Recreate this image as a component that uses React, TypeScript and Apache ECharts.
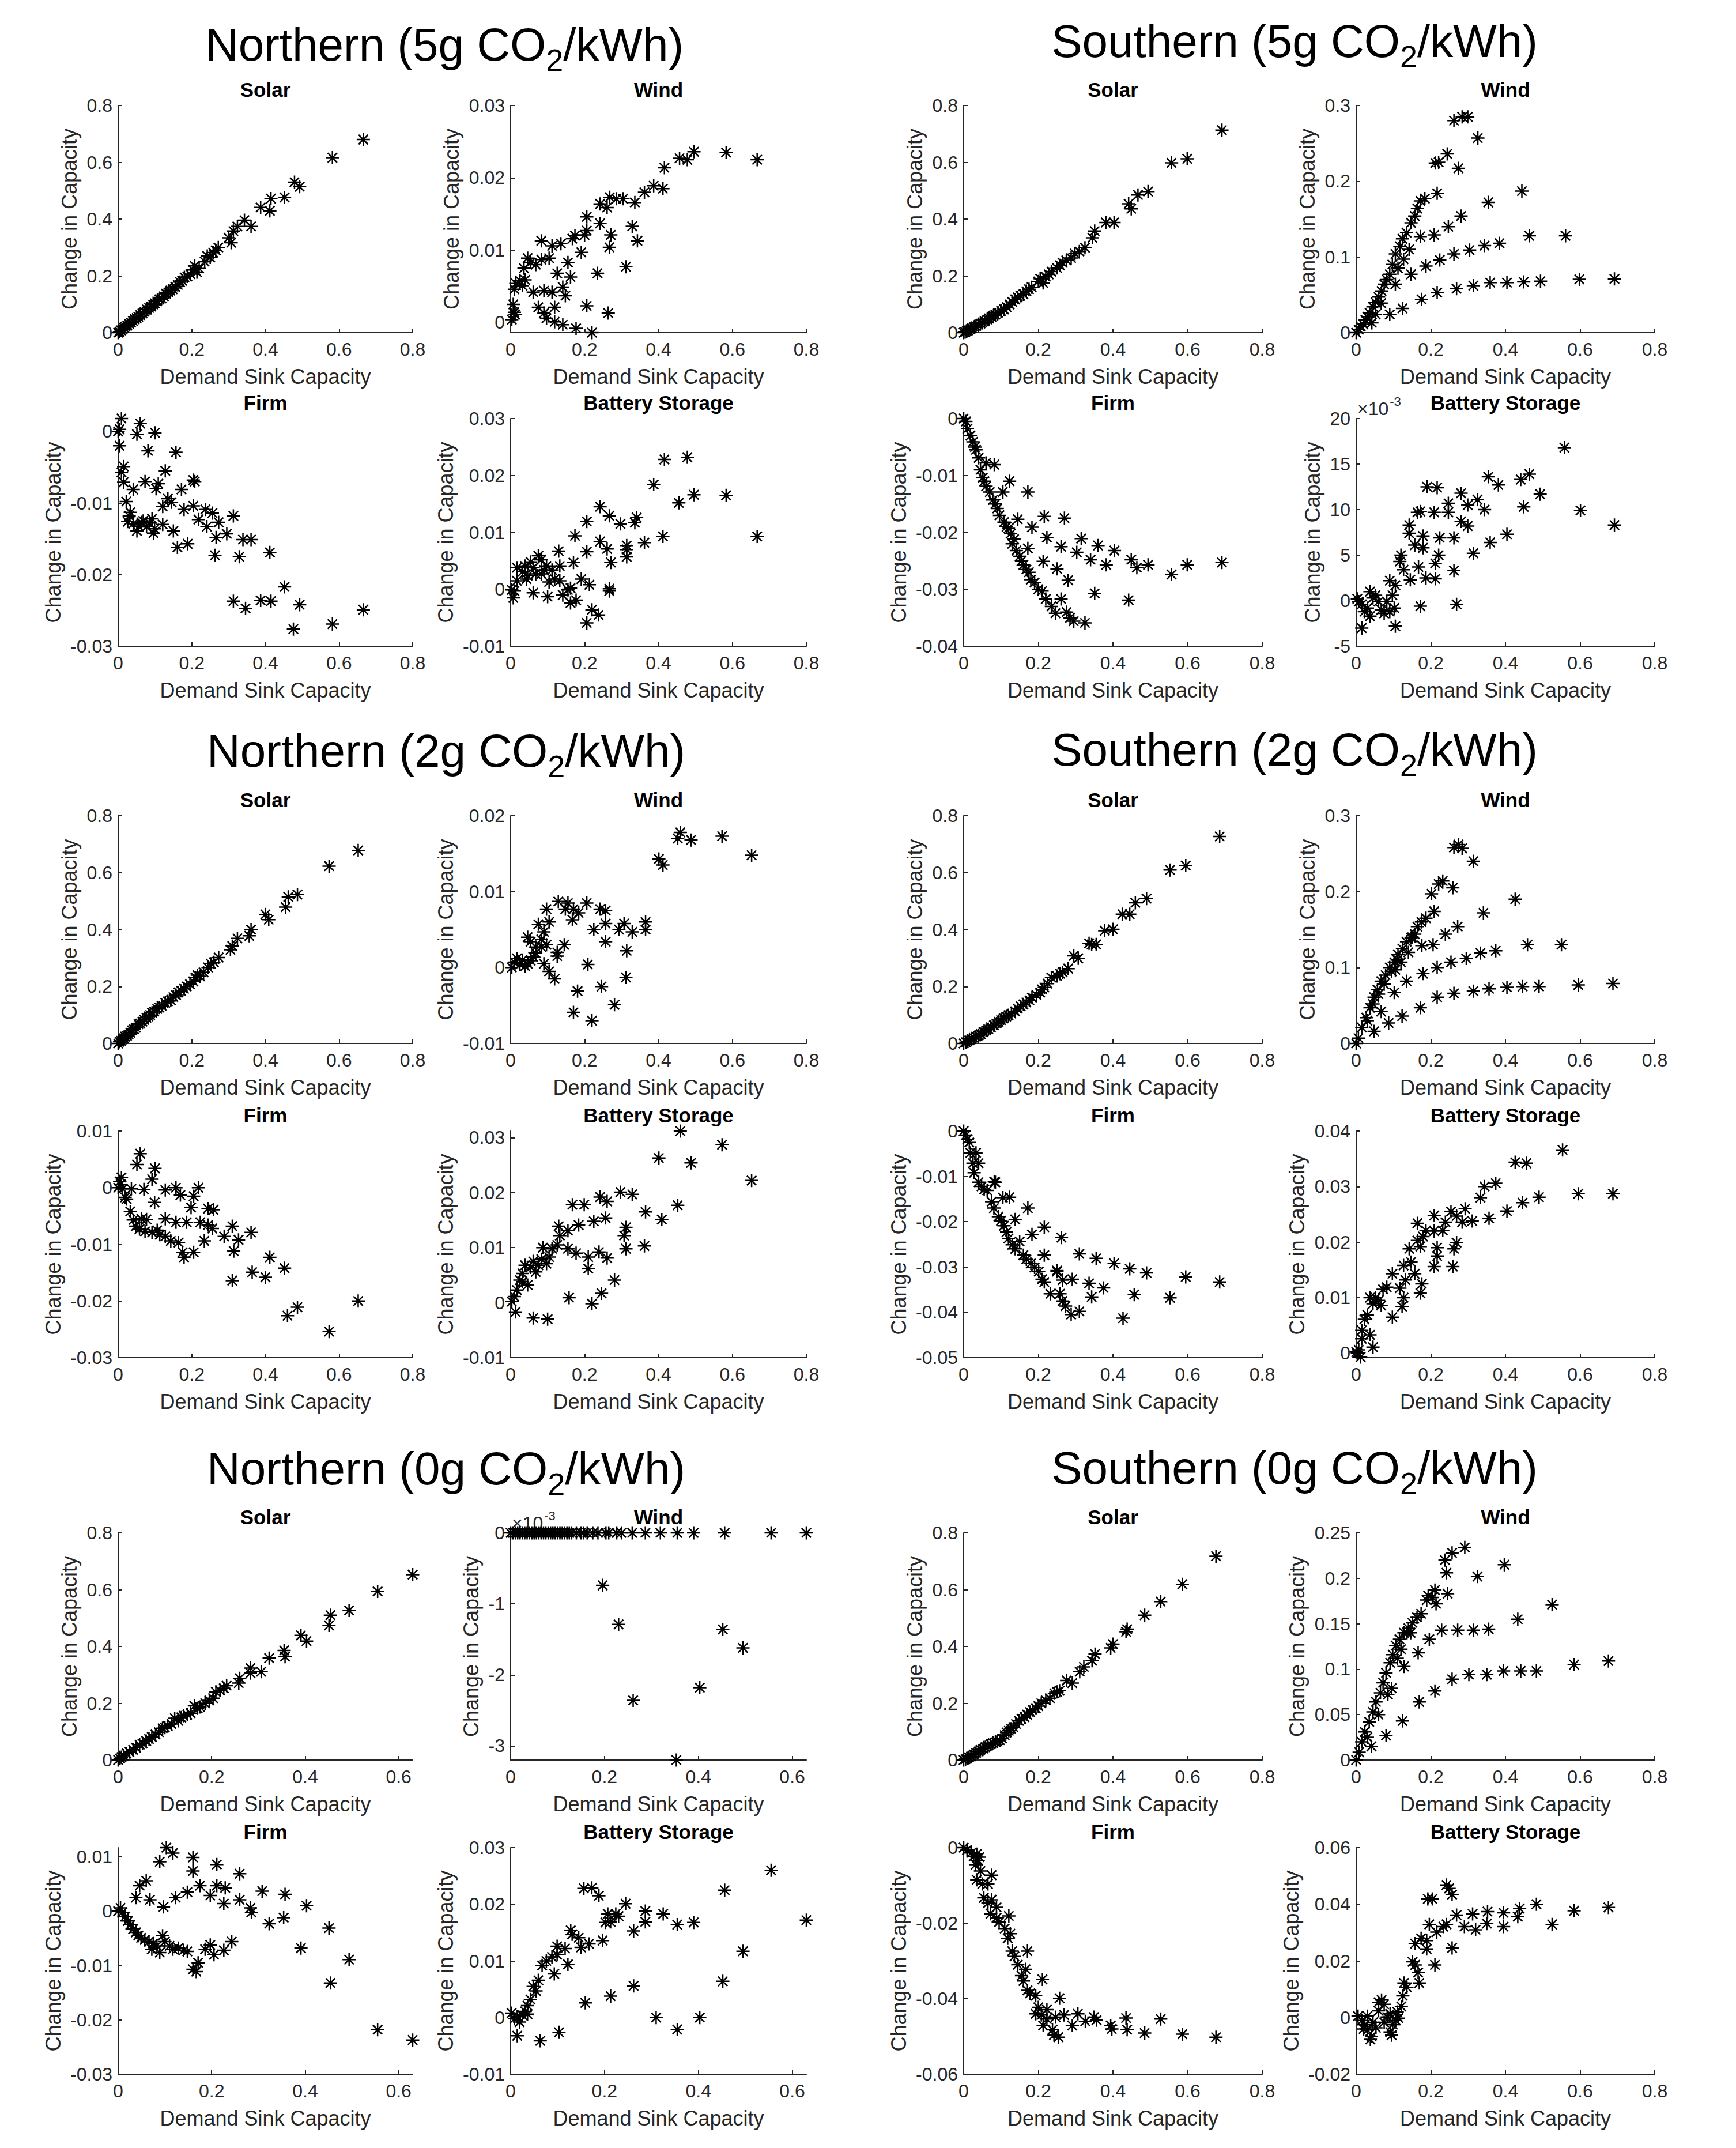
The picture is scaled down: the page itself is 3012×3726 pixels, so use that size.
import React, { useEffect, useRef } from 'react';
import * as echarts from 'echarts';

type Pt = [number, number];

// ---------------- tick arrays ----------------
const X08 = [0, 0.2, 0.4, 0.6, 0.8];
const X06 = [0, 0.2, 0.4, 0.6];
const Y_SOLAR = [0, 0.2, 0.4, 0.6, 0.8];
const Y_N5WIND = [0, 0.01, 0.02, 0.03];
const Y_S_WIND = [0, 0.1, 0.2, 0.3];
const Y_S0WIND = [0, 0.05, 0.1, 0.15, 0.2, 0.25];
const Y_N5FIRM = [-0.03, -0.02, -0.01, 0];
const Y_BATT = [-0.01, 0, 0.01, 0.02, 0.03];
const Y_S5FIRM = [-0.04, -0.03, -0.02, -0.01, 0];
const Y_S5BATT = [-0.005, 0, 0.005, 0.01, 0.015, 0.02];
const Y_N2WIND = [-0.01, 0, 0.01, 0.02];
const Y_N2FIRM = [-0.03, -0.02, -0.01, 0, 0.01];
const Y_S2FIRM = [-0.05, -0.04, -0.03, -0.02, -0.01, 0];
const Y_S2BATT = [0, 0.01, 0.02, 0.03, 0.04];
const Y_N0WIND = [-0.003, -0.002, -0.001, 0];
const Y_S0FIRM = [-0.06, -0.04, -0.02, 0];
const Y_S0BATT = [-0.02, 0, 0.02, 0.04, 0.06];

// ---------------- Northern 5g ----------------
const n5Solar: Pt[] = [[0,0],[0.004,0.003],[0.008,0.008],[0.012,0.011],[0.016,0.017],[0.02,0.021],[0.025,0.025],[0.03,0.031],[0.035,0.035],[0.04,0.041],[0.045,0.047],[0.05,0.051],[0.055,0.056],[0.06,0.062],[0.066,0.068],[0.072,0.073],[0.078,0.081],[0.084,0.087],[0.09,0.092],[0.095,0.099],[0.1,0.103],[0.106,0.11],[0.112,0.117],[0.118,0.121],[0.124,0.128],[0.13,0.137],[0.136,0.142],[0.142,0.148],[0.148,0.153],[0.155,0.162],[0.162,0.168],[0.168,0.178],[0.174,0.183],[0.18,0.195],[0.188,0.198],[0.196,0.206],[0.203,0.221],[0.208,0.235],[0.214,0.213],[0.22,0.226],[0.235,0.25],[0.242,0.27],[0.25,0.265],[0.258,0.282],[0.265,0.29],[0.272,0.3],[0.3,0.334],[0.307,0.317],[0.313,0.358],[0.324,0.374],[0.343,0.396],[0.361,0.374],[0.387,0.441],[0.412,0.429],[0.415,0.472],[0.452,0.476],[0.479,0.53],[0.493,0.514],[0.582,0.616],[0.666,0.68]];
const n5Wind: Pt[] = [[0.667,0.0225],[0.583,0.0235],[0.496,0.0236],[0.478,0.0225],[0.457,0.0227],[0.416,0.0214],[0.412,0.0185],[0.387,0.0189],[0.362,0.018],[0.336,0.0166],[0.304,0.0171],[0.286,0.0171],[0.268,0.0173],[0.261,0.0159],[0.242,0.0164],[0.206,0.0146],[0.242,0.0137],[0.329,0.0133],[0.343,0.0113],[0.271,0.0121],[0.267,0.0104],[0.206,0.0127],[0.2,0.0121],[0.174,0.012],[0.167,0.0116],[0.191,0.0097],[0.155,0.0083],[0.235,0.0068],[0.312,0.0077],[0.136,0.0109],[0.112,0.0106],[0.083,0.0113],[0.104,0.0089],[0.083,0.0087],[0.068,0.008],[0.054,0.0083],[0.046,0.0089],[0.036,0.0075],[0.126,0.0068],[0.162,0.0063],[0.141,0.0049],[0.148,0.0037],[0.112,0.0042],[0.09,0.0044],[0.061,0.0042],[0.039,0.0059],[0.025,0.0058],[0.014,0.0054],[0.01,0.0046],[0.032,0.0051],[0.075,0.0021],[0.119,0.0021],[0.206,0.0023],[0.264,0.0013],[0.09,0.0013],[0.097,0.0006],[0.119,0.0001],[0.141,-0.0003],[0.177,-0.0008],[0.22,-0.0014],[0.003,0.0004],[0.007,0.0025],[0.01,0.0014],[0.012,0.0011]];
const n5Firm: Pt[] = [[0.009,0.0018],[0.004,0.0003],[0,0],[0.06,0.0011],[0.051,-0.0004],[0.1,-0.0002],[0.004,-0.002],[0.081,-0.0027],[0.157,-0.0029],[0.015,-0.0049],[0.009,-0.0057],[0.128,-0.0055],[0.015,-0.0071],[0.073,-0.007],[0.109,-0.0073],[0.103,-0.008],[0.041,-0.0081],[0.172,-0.0081],[0.204,-0.0068],[0.208,-0.007],[0.022,-0.0098],[0.135,-0.0094],[0.145,-0.0099],[0.121,-0.0105],[0.179,-0.0109],[0.204,-0.0104],[0.237,-0.0109],[0.256,-0.0114],[0.313,-0.0118],[0.218,-0.0123],[0.273,-0.0127],[0.241,-0.0133],[0.033,-0.0113],[0.026,-0.0126],[0.041,-0.0129],[0.063,-0.0127],[0.077,-0.0133],[0.092,-0.0122],[0.099,-0.0136],[0.121,-0.013],[0.051,-0.0139],[0.096,-0.0142],[0.15,-0.0139],[0.056,-0.0133],[0.068,-0.0125],[0.085,-0.0128],[0.03,-0.0118],[0.295,-0.0143],[0.266,-0.0148],[0.339,-0.0151],[0.361,-0.0151],[0.189,-0.0157],[0.161,-0.0162],[0.412,-0.0169],[0.263,-0.0173],[0.329,-0.0175],[0.452,-0.0217],[0.313,-0.0237],[0.346,-0.0247],[0.387,-0.0236],[0.415,-0.0237],[0.493,-0.0242],[0.666,-0.0249],[0.582,-0.0269],[0.476,-0.0276]];
const n5Battery: Pt[] = [[0.667,0.0093],[0.583,0.0165],[0.496,0.0166],[0.455,0.0152],[0.478,0.0232],[0.416,0.0228],[0.387,0.0184],[0.412,0.0093],[0.362,0.0082],[0.341,0.0126],[0.336,0.0117],[0.314,0.0077],[0.314,0.007],[0.314,0.0057],[0.297,0.0115],[0.267,0.0129],[0.242,0.0145],[0.206,0.0119],[0.261,0.0071],[0.242,0.0084],[0.271,0.0047],[0.206,0.0066],[0.174,0.0094],[0.17,0.0047],[0.13,0.0067],[0.133,0.0041],[0.267,0.0001],[0.267,-0.0003],[0.191,0.0018],[0.213,0.0008],[0.162,0.0002],[0.155,-0.0001],[0.141,-0.001],[0.177,-0.0019],[0.162,-0.0024],[0.22,-0.0036],[0.238,-0.0045],[0.206,-0.0059],[0.1,-0.0013],[0.061,-0.0006],[0.007,-0.0015],[0.003,-0.0001],[0.01,-0.0003],[0.017,0.0015],[0.017,0.0038],[0.039,0.0041],[0.054,0.0048],[0.075,0.0059],[0.083,0.0052],[0.061,0.0038],[0.068,0.0027],[0.032,0.0031],[0.046,0.0024],[0.083,0.0027],[0.097,0.0041],[0.112,0.0034],[0.119,0.0018],[0.133,0.0015],[0.104,0.0013],[0.043,0.0018],[0.09,0.0034]];

// ---------------- Southern 5g ----------------
const s5Solar: Pt[] = [[0,0],[0.004,0.002],[0.008,0.005],[0.012,0.008],[0.018,0.012],[0.022,0.015],[0.028,0.019],[0.033,0.023],[0.04,0.028],[0.045,0.032],[0.05,0.036],[0.056,0.04],[0.063,0.046],[0.068,0.05],[0.075,0.056],[0.08,0.06],[0.085,0.064],[0.092,0.07],[0.1,0.076],[0.108,0.082],[0.115,0.09],[0.123,0.099],[0.13,0.108],[0.138,0.117],[0.145,0.124],[0.152,0.13],[0.16,0.135],[0.168,0.146],[0.175,0.153],[0.182,0.16],[0.2,0.18],[0.205,0.19],[0.213,0.175],[0.22,0.197],[0.228,0.205],[0.235,0.215],[0.25,0.228],[0.258,0.237],[0.265,0.246],[0.275,0.255],[0.288,0.263],[0.298,0.278],[0.31,0.286],[0.325,0.299],[0.345,0.334],[0.351,0.358],[0.381,0.388],[0.403,0.388],[0.442,0.454],[0.449,0.436],[0.467,0.485],[0.494,0.497],[0.557,0.598],[0.599,0.612],[0.692,0.713]];
const s5Wind: Pt[] = [[0,0],[0.007,0.004],[0.012,0.008],[0.019,0.011],[0.025,0.017],[0.03,0.021],[0.036,0.026],[0.042,0.013],[0.045,0.034],[0.052,0.024],[0.052,0.04],[0.06,0.047],[0.067,0.039],[0.068,0.055],[0.075,0.064],[0.082,0.07],[0.09,0.024],[0.09,0.077],[0.097,0.09],[0.105,0.064],[0.105,0.104],[0.112,0.085],[0.117,0.114],[0.124,0.032],[0.124,0.124],[0.127,0.097],[0.135,0.132],[0.142,0.11],[0.147,0.077],[0.147,0.145],[0.157,0.154],[0.164,0.164],[0.172,0.127],[0.172,0.174],[0.175,0.044],[0.184,0.177],[0.187,0.088],[0.209,0.129],[0.212,0.224],[0.217,0.053],[0.217,0.184],[0.221,0.225],[0.224,0.096],[0.244,0.236],[0.247,0.14],[0.262,0.104],[0.262,0.28],[0.269,0.058],[0.274,0.217],[0.281,0.154],[0.284,0.285],[0.299,0.285],[0.304,0.109],[0.314,0.062],[0.326,0.257],[0.344,0.115],[0.354,0.172],[0.359,0.066],[0.384,0.118],[0.404,0.066],[0.444,0.187],[0.449,0.067],[0.464,0.128],[0.494,0.068],[0.561,0.128],[0.598,0.0705],[0.692,0.071]];
const s5Firm: Pt[] = [[0,0],[0.006,-0.0005],[0.01,-0.0018],[0.018,-0.003],[0.025,-0.0041],[0.03,-0.005],[0.033,-0.0055],[0.04,-0.0069],[0.045,-0.009],[0.051,-0.0104],[0.055,-0.011],[0.06,-0.0119],[0.07,-0.0129],[0.078,-0.0143],[0.085,-0.015],[0.09,-0.0158],[0.096,-0.017],[0.108,-0.0182],[0.115,-0.019],[0.12,-0.0193],[0.126,-0.0202],[0.13,-0.022],[0.135,-0.0212],[0.141,-0.0232],[0.15,-0.0242],[0.155,-0.025],[0.16,-0.0257],[0.168,-0.0265],[0.175,-0.027],[0.18,-0.0283],[0.19,-0.0288],[0.2,-0.03],[0.21,-0.0303],[0.22,-0.0317],[0.235,-0.033],[0.246,-0.0342],[0.276,-0.034],[0.285,-0.035],[0.295,-0.0356],[0.325,-0.0359],[0.261,-0.0317],[0.28,-0.0284],[0.213,-0.0251],[0.25,-0.0264],[0.351,-0.0307],[0.442,-0.0319],[0.082,-0.0081],[0.06,-0.0078],[0.123,-0.011],[0.105,-0.0129],[0.172,-0.0129],[0.145,-0.0177],[0.216,-0.0172],[0.27,-0.0175],[0.183,-0.0191],[0.223,-0.0209],[0.315,-0.0211],[0.261,-0.0225],[0.36,-0.0223],[0.404,-0.0232],[0.303,-0.0235],[0.34,-0.0248],[0.382,-0.0257],[0.449,-0.0248],[0.464,-0.0262],[0.494,-0.0257],[0.557,-0.0274],[0.599,-0.0257],[0.692,-0.0253],[0.172,-0.0228]];
const s5Battery: Pt[] = [[0.558,0.0168],[0.464,0.0139],[0.441,0.0133],[0.354,0.0136],[0.381,0.0127],[0.493,0.0117],[0.449,0.0103],[0.601,0.0099],[0.692,0.0083],[0.404,0.0073],[0.359,0.0064],[0.314,0.0052],[0.344,0.01],[0.325,0.0111],[0.281,0.0118],[0.299,0.0105],[0.281,0.0087],[0.299,0.0082],[0.247,0.0107],[0.247,0.0097],[0.19,0.0125],[0.217,0.0124],[0.209,0.0097],[0.172,0.0098],[0.164,0.0097],[0.179,0.0071],[0.224,0.0069],[0.262,0.0069],[0.142,0.0074],[0.142,0.0083],[0.157,0.0061],[0.179,0.0058],[0.221,0.005],[0.212,0.0041],[0.262,0.0033],[0.212,0.0024],[0.187,0.0025],[0.167,0.0037],[0.145,0.0023],[0.127,0.0034],[0.12,0.005],[0.117,0.0043],[0.105,0.0017],[0.09,0.0022],[0.097,0.0006],[0.082,-0.0001],[0.172,-0.0006],[0.269,-0.0004],[0.105,-0.0028],[0.015,-0.003],[0.037,0.001],[0.045,0.0003],[0.06,-0.0001],[0.067,-0.001],[0.075,-0.0014],[0.03,-0.0008],[0.037,-0.0017],[0.007,-0.0001],[0.015,-0.0004],[0.022,-0.0012],[0.003,0.0002],[0.052,0.0006],[0.09,-0.0012],[0.102,-0.0008]];

// ---------------- Northern 2g ----------------
const n2Solar: Pt[] = [[0,0],[0.004,0.006],[0.008,0.009],[0.012,0.014],[0.016,0.018],[0.019,0.024],[0.024,0.027],[0.028,0.032],[0.033,0.038],[0.038,0.046],[0.043,0.05],[0.048,0.055],[0.055,0.068],[0.06,0.07],[0.066,0.077],[0.071,0.083],[0.077,0.09],[0.082,0.095],[0.087,0.1],[0.092,0.108],[0.098,0.112],[0.106,0.121],[0.112,0.126],[0.118,0.132],[0.128,0.143],[0.135,0.148],[0.143,0.152],[0.15,0.163],[0.157,0.17],[0.164,0.179],[0.171,0.185],[0.179,0.192],[0.186,0.2],[0.195,0.208],[0.204,0.218],[0.21,0.232],[0.215,0.24],[0.222,0.236],[0.232,0.25],[0.244,0.267],[0.252,0.28],[0.26,0.285],[0.273,0.302],[0.305,0.329],[0.31,0.342],[0.324,0.369],[0.356,0.378],[0.361,0.4],[0.4,0.453],[0.409,0.435],[0.455,0.479],[0.462,0.515],[0.487,0.523],[0.573,0.623],[0.652,0.678]];
const n2Wind: Pt[] = [[0.652,0.0148],[0.572,0.0173],[0.488,0.0168],[0.459,0.0178],[0.452,0.017],[0.412,0.0135],[0.401,0.0143],[0.365,0.006],[0.365,0.005],[0.329,0.0047],[0.307,0.0058],[0.293,0.005],[0.314,0.0022],[0.312,-0.0013],[0.257,0.0058],[0.257,0.0034],[0.257,0.0075],[0.242,0.0077],[0.225,0.005],[0.206,0.0085],[0.184,0.0072],[0.17,0.0077],[0.167,0.0063],[0.155,0.0085],[0.129,0.0087],[0.148,0.0077],[0.145,0.003],[0.126,0.0015],[0.104,0.006],[0.097,0.0077],[0.126,0.002],[0.075,0.0057],[0.09,0.0047],[0.046,0.004],[0.054,0.0034],[0.083,0.0027],[0.097,0.003],[0.068,0.0019],[0.09,0.0005],[0.104,-0.0005],[0.119,-0.0015],[0.209,0.0004],[0.181,-0.0031],[0.246,-0.0025],[0.281,-0.0049],[0.17,-0.0059],[0.22,-0.007],[0.01,0.0007],[0.017,0.0012],[0.032,0.001],[0.046,0.0005],[0.061,0.0014],[0.025,0.0004],[0.003,0],[0.039,0.0002],[0.054,0.0009],[0.068,0.0027],[0.083,0.0037]];
const n2Firm: Pt[] = [[0.06,0.006],[0.051,0.0041],[0.1,0.0034],[0.092,0.0015],[0.009,0.0018],[0.004,0.0011],[0,0],[0.012,-0.0002],[0.007,0.0006],[0.019,-0.0017],[0.023,-0.002],[0.036,-0.0002],[0.07,-0.0003],[0.099,-0.0026],[0.128,-0.0004],[0.157,0],[0.169,-0.0013],[0.205,-0.0015],[0.218,0],[0.198,-0.0035],[0.244,-0.0037],[0.259,-0.0039],[0.033,-0.0042],[0.041,-0.0057],[0.063,-0.0055],[0.077,-0.0056],[0.128,-0.0055],[0.157,-0.0061],[0.186,-0.0061],[0.223,-0.0061],[0.244,-0.0066],[0.256,-0.0072],[0.31,-0.0068],[0.361,-0.0079],[0.288,-0.0086],[0.327,-0.0092],[0.234,-0.0094],[0.314,-0.0112],[0.048,-0.0068],[0.058,-0.0073],[0.073,-0.0077],[0.092,-0.0079],[0.106,-0.0075],[0.113,-0.0083],[0.128,-0.0086],[0.143,-0.0094],[0.164,-0.0097],[0.175,-0.0114],[0.179,-0.0123],[0.205,-0.0114],[0.412,-0.0123],[0.364,-0.0149],[0.4,-0.0158],[0.31,-0.0164],[0.452,-0.0142],[0.46,-0.0226],[0.487,-0.0211],[0.652,-0.02],[0.573,-0.0254]];
const n2Battery: Pt[] = [[0.459,0.0312],[0.572,0.0287],[0.401,0.0263],[0.488,0.0254],[0.652,0.0222],[0.452,0.0177],[0.365,0.0165],[0.409,0.0151],[0.362,0.0103],[0.312,0.0137],[0.307,0.0122],[0.312,0.0098],[0.329,0.0197],[0.297,0.0201],[0.261,0.0184],[0.242,0.0192],[0.257,0.0154],[0.225,0.0148],[0.199,0.0178],[0.167,0.0178],[0.184,0.0141],[0.155,0.0131],[0.13,0.0139],[0.239,0.0092],[0.261,0.0081],[0.21,0.0083],[0.21,0.0062],[0.177,0.009],[0.155,0.0098],[0.126,0.0105],[0.112,0.0098],[0.087,0.01],[0.133,0.0122],[0.281,0.0041],[0.246,0.0017],[0.22,-0.0002],[0.158,0.0009],[0.1,-0.003],[0.061,-0.0028],[0.013,-0.0017],[0.003,0.0002],[0.01,0.0011],[0.017,0.0023],[0.025,0.0041],[0.032,0.0053],[0.046,0.0032],[0.054,0.0064],[0.061,0.0075],[0.075,0.0068],[0.083,0.0079],[0.097,0.0071],[0.104,0.0083],[0.039,0.0068],[0.068,0.0056],[0.032,0.0038]];

// ---------------- Southern 2g ----------------
const s2Solar: Pt[] = [[0,0],[0.006,0.004],[0.01,0.007],[0.015,0.011],[0.021,0.015],[0.027,0.019],[0.033,0.024],[0.04,0.028],[0.046,0.033],[0.053,0.04],[0.06,0.046],[0.066,0.05],[0.073,0.057],[0.081,0.064],[0.088,0.07],[0.094,0.076],[0.1,0.082],[0.107,0.088],[0.114,0.094],[0.12,0.099],[0.128,0.105],[0.138,0.113],[0.145,0.122],[0.153,0.13],[0.16,0.137],[0.168,0.144],[0.176,0.152],[0.183,0.161],[0.195,0.17],[0.205,0.179],[0.21,0.19],[0.216,0.197],[0.225,0.21],[0.235,0.232],[0.25,0.237],[0.258,0.245],[0.265,0.25],[0.28,0.263],[0.295,0.308],[0.307,0.299],[0.336,0.352],[0.343,0.348],[0.355,0.348],[0.378,0.396],[0.4,0.401],[0.425,0.454],[0.445,0.454],[0.46,0.494],[0.49,0.509],[0.553,0.609],[0.595,0.625],[0.686,0.727]];
const s2Wind: Pt[] = [[0,0],[0.006,0.007],[0.015,0.021],[0.027,0.034],[0.03,0.03],[0.037,0.047],[0.045,0.052],[0.048,0.061],[0.057,0.071],[0.06,0.065],[0.067,0.082],[0.075,0.078],[0.079,0.09],[0.09,0.1],[0.095,0.095],[0.102,0.107],[0.11,0.11],[0.112,0.117],[0.124,0.125],[0.135,0.134],[0.14,0.12],[0.147,0.139],[0.15,0.14],[0.157,0.144],[0.164,0.154],[0.175,0.16],[0.187,0.165],[0.209,0.174],[0.202,0.197],[0.221,0.21],[0.232,0.214],[0.259,0.205],[0.262,0.258],[0.274,0.262],[0.284,0.257],[0.314,0.24],[0.426,0.19],[0.341,0.172],[0.272,0.154],[0.239,0.144],[0.206,0.13],[0.176,0.129],[0.135,0.082],[0.102,0.067],[0.067,0.042],[0.55,0.13],[0.459,0.13],[0.374,0.122],[0.333,0.119],[0.295,0.112],[0.254,0.107],[0.217,0.1],[0.179,0.092],[0.105,0.097],[0.12,0.107],[0.688,0.079],[0.595,0.077],[0.49,0.075],[0.446,0.075],[0.404,0.074],[0.356,0.072],[0.314,0.069],[0.262,0.066],[0.217,0.061],[0.172,0.047],[0.123,0.036],[0.087,0.027],[0.048,0.016]];
const s2Firm: Pt[] = [[0,0],[0.006,-0.0009],[0.01,-0.0018],[0.015,-0.0025],[0.018,-0.0048],[0.033,-0.0048],[0.04,-0.0071],[0.025,-0.0071],[0.028,-0.0092],[0.04,-0.0113],[0.048,-0.0122],[0.055,-0.0129],[0.063,-0.0131],[0.085,-0.0113],[0.075,-0.0156],[0.081,-0.017],[0.093,-0.0189],[0.1,-0.0198],[0.108,-0.0209],[0.115,-0.0223],[0.12,-0.0237],[0.13,-0.0251],[0.138,-0.026],[0.15,-0.0244],[0.16,-0.0274],[0.168,-0.0283],[0.18,-0.0292],[0.19,-0.0301],[0.201,-0.031],[0.21,-0.0327],[0.216,-0.0333],[0.232,-0.0359],[0.258,-0.0359],[0.25,-0.031],[0.265,-0.0375],[0.273,-0.0386],[0.288,-0.0405],[0.31,-0.0398],[0.291,-0.0327],[0.265,-0.0329],[0.336,-0.0336],[0.343,-0.0366],[0.375,-0.0346],[0.457,-0.0361],[0.553,-0.0368],[0.427,-0.0413],[0.082,-0.0112],[0.105,-0.0147],[0.123,-0.0146],[0.172,-0.017],[0.138,-0.0195],[0.183,-0.0228],[0.216,-0.0212],[0.216,-0.0274],[0.262,-0.0235],[0.31,-0.0271],[0.355,-0.0281],[0.403,-0.0292],[0.445,-0.0304],[0.49,-0.0313],[0.595,-0.0322],[0.686,-0.0333],[0.25,-0.0308]];
const s2Battery: Pt[] = [[0.553,0.0366],[0.426,0.0344],[0.456,0.0342],[0.374,0.0306],[0.344,0.03],[0.333,0.028],[0.688,0.0287],[0.595,0.0287],[0.49,0.0281],[0.446,0.0271],[0.404,0.0256],[0.356,0.0243],[0.311,0.0238],[0.292,0.026],[0.269,0.0247],[0.284,0.0236],[0.254,0.0255],[0.239,0.0236],[0.209,0.0248],[0.232,0.0221],[0.187,0.0221],[0.164,0.0234],[0.209,0.022],[0.179,0.021],[0.172,0.0192],[0.142,0.0188],[0.164,0.0203],[0.269,0.0199],[0.262,0.0188],[0.217,0.019],[0.217,0.0175],[0.209,0.0156],[0.259,0.0156],[0.147,0.0164],[0.127,0.0158],[0.157,0.0143],[0.176,0.0125],[0.172,0.0108],[0.132,0.0132],[0.097,0.0143],[0.117,0.0117],[0.127,0.01],[0.123,0.0084],[0.097,0.0065],[0.082,0.0119],[0.072,0.0115],[0.06,0.0095],[0.045,0.0089],[0.037,0.01],[0.052,0.01],[0.067,0.0086],[0.03,0.0069],[0.022,0.0061],[0.015,0.0041],[0.037,0.0033],[0.015,0.0026],[0.045,0.0011],[0.007,0.0006],[0.003,0],[0.012,-0.0007],[0,0.0002]];

// ---------------- Northern 0g ----------------
const n0Solar: Pt[] = [[0,0],[0.004,0.005],[0.007,0.01],[0.012,0.015],[0.018,0.023],[0.024,0.028],[0.032,0.036],[0.038,0.043],[0.046,0.054],[0.052,0.058],[0.06,0.067],[0.066,0.074],[0.072,0.081],[0.08,0.09],[0.087,0.098],[0.095,0.112],[0.1,0.114],[0.106,0.12],[0.114,0.127],[0.121,0.147],[0.129,0.138],[0.135,0.15],[0.14,0.156],[0.148,0.16],[0.155,0.165],[0.163,0.191],[0.17,0.182],[0.175,0.187],[0.186,0.2],[0.195,0.21],[0.203,0.218],[0.209,0.24],[0.218,0.245],[0.226,0.253],[0.232,0.262],[0.258,0.271],[0.26,0.288],[0.283,0.306],[0.283,0.324],[0.306,0.311],[0.323,0.359],[0.355,0.386],[0.357,0.364],[0.391,0.439],[0.403,0.419],[0.451,0.474],[0.454,0.51],[0.494,0.527],[0.555,0.594],[0.63,0.653]];
const n0Wind: Pt[] = [[0,0],[0.005,0],[0.01,0],[0.015,0],[0.02,0],[0.025,0],[0.03,0],[0.035,0],[0.04,0],[0.045,0],[0.05,0],[0.055,0],[0.06,0],[0.065,0],[0.07,0],[0.075,0],[0.08,0],[0.085,0],[0.09,0],[0.095,0],[0.1,0],[0.105,0],[0.11,0],[0.115,0],[0.12,0],[0.125,0],[0.13,0],[0.14,0],[0.15,0],[0.155,0],[0.163,0],[0.175,0],[0.186,0],[0.203,0],[0.209,0],[0.226,0],[0.236,0],[0.259,0],[0.287,0],[0.319,0],[0.355,0],[0.39,0],[0.456,0],[0.555,0],[0.63,0],[0.196,-0.00074],[0.23,-0.00129],[0.261,-0.00236],[0.353,-0.0032],[0.403,-0.00218],[0.452,-0.00136],[0.495,-0.00162]];
const n0Firm: Pt[] = [[0.103,0.0117],[0.117,0.0107],[0.089,0.0091],[0.16,0.0099],[0.16,0.0074],[0.211,0.0086],[0.26,0.0069],[0.06,0.0056],[0.046,0.0047],[0.038,0.0025],[0.068,0.0021],[0.097,0.0008],[0.123,0.0025],[0.148,0.0035],[0.175,0.0047],[0.197,0.0029],[0.211,0.0047],[0.229,0.0043],[0.226,0.0014],[0.26,0.0021],[0.283,0.0006],[0.285,-0.0002],[0.308,0.0037],[0.357,0.0031],[0.403,0.001],[0.323,-0.0023],[0.354,-0.0012],[0.451,-0.0031],[0.391,-0.0068],[0.494,-0.0089],[0.454,-0.0132],[0.555,-0.0218],[0.63,-0.0237],[0,0],[0.005,0.0006],[0.009,-0.0002],[0.015,-0.001],[0.021,-0.0018],[0.026,-0.0025],[0.032,-0.0033],[0.038,-0.0039],[0.043,-0.0045],[0.049,-0.0049],[0.057,-0.0053],[0.066,-0.0056],[0.075,-0.006],[0.083,-0.0064],[0.095,-0.0045],[0.1,-0.0056],[0.11,-0.0064],[0.117,-0.007],[0.129,-0.0068],[0.14,-0.0072],[0.148,-0.0074],[0.16,-0.0107],[0.167,-0.0111],[0.171,-0.0095],[0.186,-0.007],[0.197,-0.0062],[0.205,-0.008],[0.226,-0.0072],[0.243,-0.0056],[0.072,-0.007],[0.089,-0.0076]];
const n0Battery: Pt[] = [[0.555,0.026],[0.63,0.0172],[0.456,0.0225],[0.495,0.0117],[0.452,0.0064],[0.403,0],[0.355,-0.0021],[0.31,0],[0.39,0.0168],[0.355,0.0164],[0.325,0.0183],[0.287,0.0188],[0.287,0.0169],[0.262,0.0153],[0.245,0.0201],[0.23,0.0179],[0.224,0.0183],[0.207,0.0183],[0.213,0.0169],[0.202,0.0168],[0.188,0.0215],[0.173,0.0229],[0.156,0.0228],[0.196,0.0136],[0.167,0.013],[0.15,0.0124],[0.145,0.0141],[0.128,0.0154],[0.131,0.0147],[0.122,0.0094],[0.116,0.0122],[0.099,0.0126],[0.099,0.0111],[0.088,0.0107],[0.076,0.01],[0.067,0.0092],[0.093,0.0077],[0.059,0.0066],[0.048,0.0055],[0.054,0.0047],[0.042,0.0032],[0.036,0.0021],[0.031,0.0011],[0.025,0.0004],[0.014,0.0002],[0.008,-0.0002],[0.019,-0.0008],[0.002,0.0008],[0.159,0.0026],[0.213,0.0038],[0.262,0.0056],[0.103,-0.0026],[0.063,-0.0041],[0.014,-0.0032],[0.036,0.0006]];

// ---------------- Southern 0g ----------------
const s0Solar: Pt[] = [[0,0],[0.005,0.003],[0.009,0.005],[0.014,0.009],[0.02,0.013],[0.027,0.019],[0.033,0.025],[0.04,0.03],[0.045,0.036],[0.052,0.04],[0.058,0.045],[0.065,0.05],[0.072,0.056],[0.078,0.06],[0.085,0.063],[0.09,0.066],[0.097,0.07],[0.103,0.076],[0.11,0.088],[0.115,0.097],[0.121,0.103],[0.127,0.11],[0.133,0.116],[0.14,0.127],[0.148,0.138],[0.155,0.145],[0.163,0.151],[0.17,0.16],[0.178,0.169],[0.185,0.176],[0.193,0.182],[0.2,0.19],[0.208,0.2],[0.22,0.21],[0.231,0.218],[0.243,0.235],[0.25,0.24],[0.257,0.244],[0.276,0.28],[0.291,0.271],[0.311,0.311],[0.322,0.328],[0.344,0.35],[0.352,0.373],[0.394,0.395],[0.4,0.408],[0.435,0.452],[0.438,0.461],[0.485,0.51],[0.528,0.558],[0.586,0.619],[0.676,0.718]];
const s0Wind: Pt[] = [[0,0],[0.008,0.0086],[0.015,0.02],[0.023,0.031],[0.035,0.042],[0.045,0.053],[0.053,0.064],[0.065,0.074],[0.072,0.085],[0.08,0.096],[0.091,0.107],[0.098,0.116],[0.106,0.126],[0.116,0.133],[0.128,0.14],[0.14,0.145],[0.151,0.151],[0.163,0.157],[0.174,0.161],[0.189,0.176],[0.204,0.179],[0.211,0.187],[0.193,0.181],[0.242,0.206],[0.238,0.22],[0.257,0.228],[0.291,0.234],[0.397,0.215],[0.325,0.202],[0.245,0.183],[0.214,0.172],[0.196,0.133],[0.166,0.118],[0.128,0.103],[0.525,0.171],[0.433,0.155],[0.355,0.144],[0.314,0.143],[0.272,0.143],[0.229,0.143],[0.136,0.14],[0.095,0.079],[0.676,0.109],[0.584,0.105],[0.483,0.098],[0.441,0.098],[0.395,0.098],[0.35,0.094],[0.302,0.094],[0.257,0.089],[0.211,0.076],[0.169,0.064],[0.124,0.043],[0.08,0.027],[0.041,0.015],[0.03,0.025],[0.06,0.05],[0.085,0.072],[0.11,0.112],[0.12,0.122],[0.146,0.14]];
const s0Firm: Pt[] = [[0,0],[0.009,-0.0006],[0.02,-0.0014],[0.027,-0.0023],[0.035,-0.0017],[0.042,-0.0025],[0.039,-0.0034],[0.032,-0.0045],[0.045,-0.0062],[0.035,-0.0085],[0.05,-0.0096],[0.065,-0.0096],[0.075,-0.0073],[0.054,-0.0133],[0.065,-0.0147],[0.075,-0.0138],[0.088,-0.0158],[0.072,-0.0175],[0.088,-0.0186],[0.095,-0.0197],[0.121,-0.0181],[0.11,-0.0214],[0.125,-0.0228],[0.118,-0.024],[0.13,-0.0274],[0.136,-0.0288],[0.171,-0.0274],[0.145,-0.031],[0.155,-0.0339],[0.16,-0.0353],[0.166,-0.0322],[0.171,-0.0378],[0.178,-0.0386],[0.193,-0.0392],[0.211,-0.0349],[0.193,-0.044],[0.208,-0.0443],[0.2,-0.0423],[0.223,-0.0429],[0.213,-0.0471],[0.238,-0.0482],[0.254,-0.0502],[0.246,-0.0449],[0.257,-0.0399],[0.269,-0.0443],[0.291,-0.0471],[0.306,-0.044],[0.326,-0.046],[0.349,-0.0449],[0.356,-0.0457],[0.394,-0.0471],[0.397,-0.048],[0.435,-0.0451],[0.438,-0.0482],[0.485,-0.0491],[0.528,-0.0454],[0.586,-0.0494],[0.676,-0.0502],[0.223,-0.0454],[0.242,-0.0496]];
const s0Battery: Pt[] = [[0.676,0.0389],[0.584,0.0377],[0.525,0.0329],[0.483,0.04],[0.438,0.0385],[0.433,0.0356],[0.395,0.037],[0.395,0.0321],[0.352,0.0374],[0.35,0.0332],[0.312,0.0366],[0.32,0.031],[0.29,0.0321],[0.269,0.0362],[0.257,0.0434],[0.242,0.0468],[0.249,0.0456],[0.204,0.0419],[0.192,0.0419],[0.242,0.0329],[0.234,0.0321],[0.216,0.0302],[0.196,0.0329],[0.257,0.0246],[0.211,0.0186],[0.189,0.0272],[0.174,0.028],[0.158,0.0261],[0.189,0.0242],[0.151,0.0197],[0.158,0.0186],[0.166,0.0159],[0.169,0.0122],[0.128,0.0122],[0.136,0.0107],[0.125,0.0077],[0.121,0.0039],[0.11,0.002],[0.113,-0.0002],[0.098,-0.0025],[0.091,-0.0051],[0.095,-0.0062],[0.083,0.0002],[0.075,-0.0017],[0.068,0.0062],[0.06,0.0054],[0.053,-0.0036],[0.041,-0.0066],[0.038,-0.0077],[0.03,0.0005],[0.023,-0.0025],[0.015,-0.001],[0.005,0.0005],[0.02,-0.004],[0.03,-0.0044],[0.045,-0.0017],[0.06,0.0024],[0.075,0.0047],[0.091,0.0013],[0.106,-0.001]];

// ---------------- layout & styles ----------------
const FONT = '"Liberation Sans", Arial, Helvetica, sans-serif';
const AX = '#262626';
const TICK_FS = 32;
const LABEL_FS = 36;
const SUBTITLE_FS = 35;
const MAIN_FS = 80;
const SUB_FS = 54;
const COL_L = [205, 886, 1672, 2353];
const COL_W = [511, 513, 518, 518];
const ROW_T = [183, 726, 1415, 1962, 2659, 3205];
const ROW_H = [394, 395, 395, 393, 394, 393];
const STAR = 'path://M0,5L10,5M5,0L5,10M1.46,1.46L8.54,8.54M8.54,1.46L1.46,8.54';

interface Panel { title: string; data: Pt[]; row: number; col: number; xMax: number; xTicks: number[]; yMin: number; yMax: number; yTicks: number[]; exp?: boolean; }

const panels: Panel[] = [
  { title: 'Solar', data: n5Solar, row: 0, col: 0, xMax: 0.8, xTicks: X08, yMin: 0, yMax: 0.8, yTicks: Y_SOLAR },
  { title: 'Wind', data: n5Wind, row: 0, col: 1, xMax: 0.8, xTicks: X08, yMin: -0.0014, yMax: 0.03, yTicks: Y_N5WIND },
  { title: 'Solar', data: s5Solar, row: 0, col: 2, xMax: 0.8, xTicks: X08, yMin: 0, yMax: 0.8, yTicks: Y_SOLAR },
  { title: 'Wind', data: s5Wind, row: 0, col: 3, xMax: 0.8, xTicks: X08, yMin: 0, yMax: 0.3, yTicks: Y_S_WIND },
  { title: 'Firm', data: n5Firm, row: 1, col: 0, xMax: 0.8, xTicks: X08, yMin: -0.03, yMax: 0.0018, yTicks: Y_N5FIRM },
  { title: 'Battery Storage', data: n5Battery, row: 1, col: 1, xMax: 0.8, xTicks: X08, yMin: -0.01, yMax: 0.03, yTicks: Y_BATT },
  { title: 'Firm', data: s5Firm, row: 1, col: 2, xMax: 0.8, xTicks: X08, yMin: -0.04, yMax: 0, yTicks: Y_S5FIRM },
  { title: 'Battery Storage', data: s5Battery, row: 1, col: 3, xMax: 0.8, xTicks: X08, yMin: -0.005, yMax: 0.02, yTicks: Y_S5BATT, exp: true },
  { title: 'Solar', data: n2Solar, row: 2, col: 0, xMax: 0.8, xTicks: X08, yMin: 0, yMax: 0.8, yTicks: Y_SOLAR },
  { title: 'Wind', data: n2Wind, row: 2, col: 1, xMax: 0.8, xTicks: X08, yMin: -0.01, yMax: 0.02, yTicks: Y_N2WIND },
  { title: 'Solar', data: s2Solar, row: 2, col: 2, xMax: 0.8, xTicks: X08, yMin: 0, yMax: 0.8, yTicks: Y_SOLAR },
  { title: 'Wind', data: s2Wind, row: 2, col: 3, xMax: 0.8, xTicks: X08, yMin: 0, yMax: 0.3, yTicks: Y_S_WIND },
  { title: 'Firm', data: n2Firm, row: 3, col: 0, xMax: 0.8, xTicks: X08, yMin: -0.03, yMax: 0.01, yTicks: Y_N2FIRM },
  { title: 'Battery Storage', data: n2Battery, row: 3, col: 1, xMax: 0.8, xTicks: X08, yMin: -0.01, yMax: 0.0312, yTicks: Y_BATT },
  { title: 'Firm', data: s2Firm, row: 3, col: 2, xMax: 0.8, xTicks: X08, yMin: -0.05, yMax: 0, yTicks: Y_S2FIRM },
  { title: 'Battery Storage', data: s2Battery, row: 3, col: 3, xMax: 0.8, xTicks: X08, yMin: -0.0008, yMax: 0.04, yTicks: Y_S2BATT },
  { title: 'Solar', data: n0Solar, row: 4, col: 0, xMax: 0.63, xTicks: X06, yMin: 0, yMax: 0.8, yTicks: Y_SOLAR },
  { title: 'Wind', data: n0Wind, row: 4, col: 1, xMax: 0.63, xTicks: X06, yMin: -0.0032, yMax: 0, yTicks: Y_N0WIND, exp: true },
  { title: 'Solar', data: s0Solar, row: 4, col: 2, xMax: 0.8, xTicks: X08, yMin: 0, yMax: 0.8, yTicks: Y_SOLAR },
  { title: 'Wind', data: s0Wind, row: 4, col: 3, xMax: 0.8, xTicks: X08, yMin: 0, yMax: 0.25, yTicks: Y_S0WIND },
  { title: 'Firm', data: n0Firm, row: 5, col: 0, xMax: 0.63, xTicks: X06, yMin: -0.03, yMax: 0.0117, yTicks: Y_N2FIRM },
  { title: 'Battery Storage', data: n0Battery, row: 5, col: 1, xMax: 0.63, xTicks: X06, yMin: -0.01, yMax: 0.03, yTicks: Y_BATT },
  { title: 'Firm', data: s0Firm, row: 5, col: 2, xMax: 0.8, xTicks: X08, yMin: -0.06, yMax: 0, yTicks: Y_S0FIRM },
  { title: 'Battery Storage', data: s0Battery, row: 5, col: 3, xMax: 0.8, xTicks: X08, yMin: -0.02, yMax: 0.06, yTicks: Y_S0BATT },
];

const groupTitles = [
  { left: 'Northern (5g CO', right: '/kWh)', cx: 771, base: 105 },
  { left: 'Southern (5g CO', right: '/kWh)', cx: 2246, base: 99 },
  { left: 'Northern (2g CO', right: '/kWh)', cx: 774, base: 1330 },
  { left: 'Southern (2g CO', right: '/kWh)', cx: 2246, base: 1328 },
  { left: 'Northern (0g CO', right: '/kWh)', cx: 774, base: 2575 },
  { left: 'Southern (0g CO', right: '/kWh)', cx: 2246, base: 2574 },
];

const fmtNum = (v: number) => String(parseFloat(Number(v).toPrecision(6)));
const fmtExp = (v: number) => String(Math.round(Number(v) * 1000));

let measureCtx: CanvasRenderingContext2D | null = null;
function textWidth(t: string, size: number, weight = 'normal'): number {
  if (!measureCtx) measureCtx = document.createElement('canvas').getContext('2d');
  if (!measureCtx) return t.length * size * 0.55;
  measureCtx.font = `${weight} ${size}px "Liberation Sans", Arial, sans-serif`;
  return measureCtx.measureText(t).width;
}

function txt(x: number, y: number, text: string, size: number, opts: any = {}) {
  const align = opts.align || 'left';
  return {
    type: 'text',
    x,
    y,
    silent: true,
    style: {
      text,
      fill: opts.fill || '#000',
      fontSize: size,
      fontFamily: FONT,
      fontWeight: opts.weight || 'normal',
      align,
      textAlign: align,
      verticalAlign: 'middle',
      textVerticalAlign: 'middle',
    },
  };
}

function buildOption() {
  const graphic: any[] = [];
  groupTitles.forEach((g) => {
    const wl = textWidth(g.left, MAIN_FS);
    const ws = textWidth('2', SUB_FS);
    const wr = textWidth(g.right, MAIN_FS);
    const x0 = g.cx - (wl + ws + wr) / 2;
    const midMain = g.base - 0.35 * MAIN_FS;
    const midSub = g.base + 18 - 0.35 * SUB_FS;
    graphic.push(txt(x0, midMain, g.left, MAIN_FS));
    graphic.push(txt(x0 + wl, midSub, '2', SUB_FS));
    graphic.push(txt(x0 + wl + ws, midMain, g.right, MAIN_FS));
  });
  panels.forEach((p) => {
    const left = COL_L[p.col];
    const top = ROW_T[p.row];
    const cx = left + COL_W[p.col] / 2;
    graphic.push(txt(cx, top - 15 - 0.35 * SUBTITLE_FS, p.title, SUBTITLE_FS, { align: 'center', weight: 'bold' }));
    if (p.exp) {
      const w = textWidth('\u00d710', TICK_FS);
      graphic.push(txt(left + 2, top - 6 - 0.35 * TICK_FS, '\u00d710', TICK_FS, { fill: AX }));
      graphic.push(txt(left + 4 + w, top - 22 - 0.35 * 22, '-3', 22, { fill: AX }));
    }
  });

  const grid = panels.map((p) => ({ left: COL_L[p.col], top: ROW_T[p.row], width: COL_W[p.col], height: ROW_H[p.row], containLabel: false }));
  const axisLineStyle = { color: AX, width: 2 };
  const xAxis = panels.map((p, i) => ({
    type: 'value', gridIndex: i, min: 0, max: p.xMax, position: 'bottom',
    axisLine: { show: true, onZero: false, lineStyle: axisLineStyle },
    axisTick: { show: true, inside: true, length: 7, customValues: p.xTicks, lineStyle: axisLineStyle },
    axisLabel: { show: true, customValues: p.xTicks, formatter: fmtNum, color: AX, fontSize: TICK_FS, fontFamily: FONT, margin: 13 },
    splitLine: { show: false },
    name: 'Demand Sink Capacity', nameLocation: 'middle', nameGap: 58,
    nameTextStyle: { color: AX, fontSize: LABEL_FS, fontFamily: FONT },
  }));
  const yAxis = panels.map((p, i) => {
    const fmt = p.exp ? fmtExp : fmtNum;
    const maxW = Math.max(...p.yTicks.map((t) => textWidth(fmt(t), TICK_FS)));
    return {
      type: 'value', gridIndex: i, min: p.yMin, max: p.yMax, position: 'left',
      axisLine: { show: true, onZero: false, lineStyle: axisLineStyle },
      axisTick: { show: true, inside: true, length: 7, customValues: p.yTicks, lineStyle: axisLineStyle },
      axisLabel: { show: true, customValues: p.yTicks, formatter: fmt, color: AX, fontSize: TICK_FS, fontFamily: FONT, margin: 10 },
      splitLine: { show: false },
      name: 'Change in Capacity', nameLocation: 'middle', nameRotate: 90, nameGap: maxW + 22,
      nameTextStyle: { color: AX, fontSize: LABEL_FS, fontFamily: FONT },
    };
  });
  const series = panels.map((p, i) => ({
    type: 'scatter', xAxisIndex: i, yAxisIndex: i, data: p.data,
    symbol: STAR, symbolSize: 23, clip: false, silent: true,
    itemStyle: { color: 'rgba(0,0,0,0)', borderColor: '#000', borderWidth: 2.5, opacity: 1 },
    emphasis: { disabled: true },
  }));

  return {
    animation: false,
    backgroundColor: '#ffffff',
    grid, xAxis, yAxis, series, graphic,
  };
}

export default function App() {
  const ref = useRef<HTMLDivElement>(null);
  useEffect(() => {
    if (!ref.current) return;
    const chart = echarts.init(ref.current, null, { renderer: 'svg' });
    chart.setOption(buildOption() as any);
    return () => chart.dispose();
  }, []);
  return <div ref={ref} style={{ position: 'absolute', left: 0, top: 0, width: 3012, height: 3726, background: '#fff' }} />;
}
